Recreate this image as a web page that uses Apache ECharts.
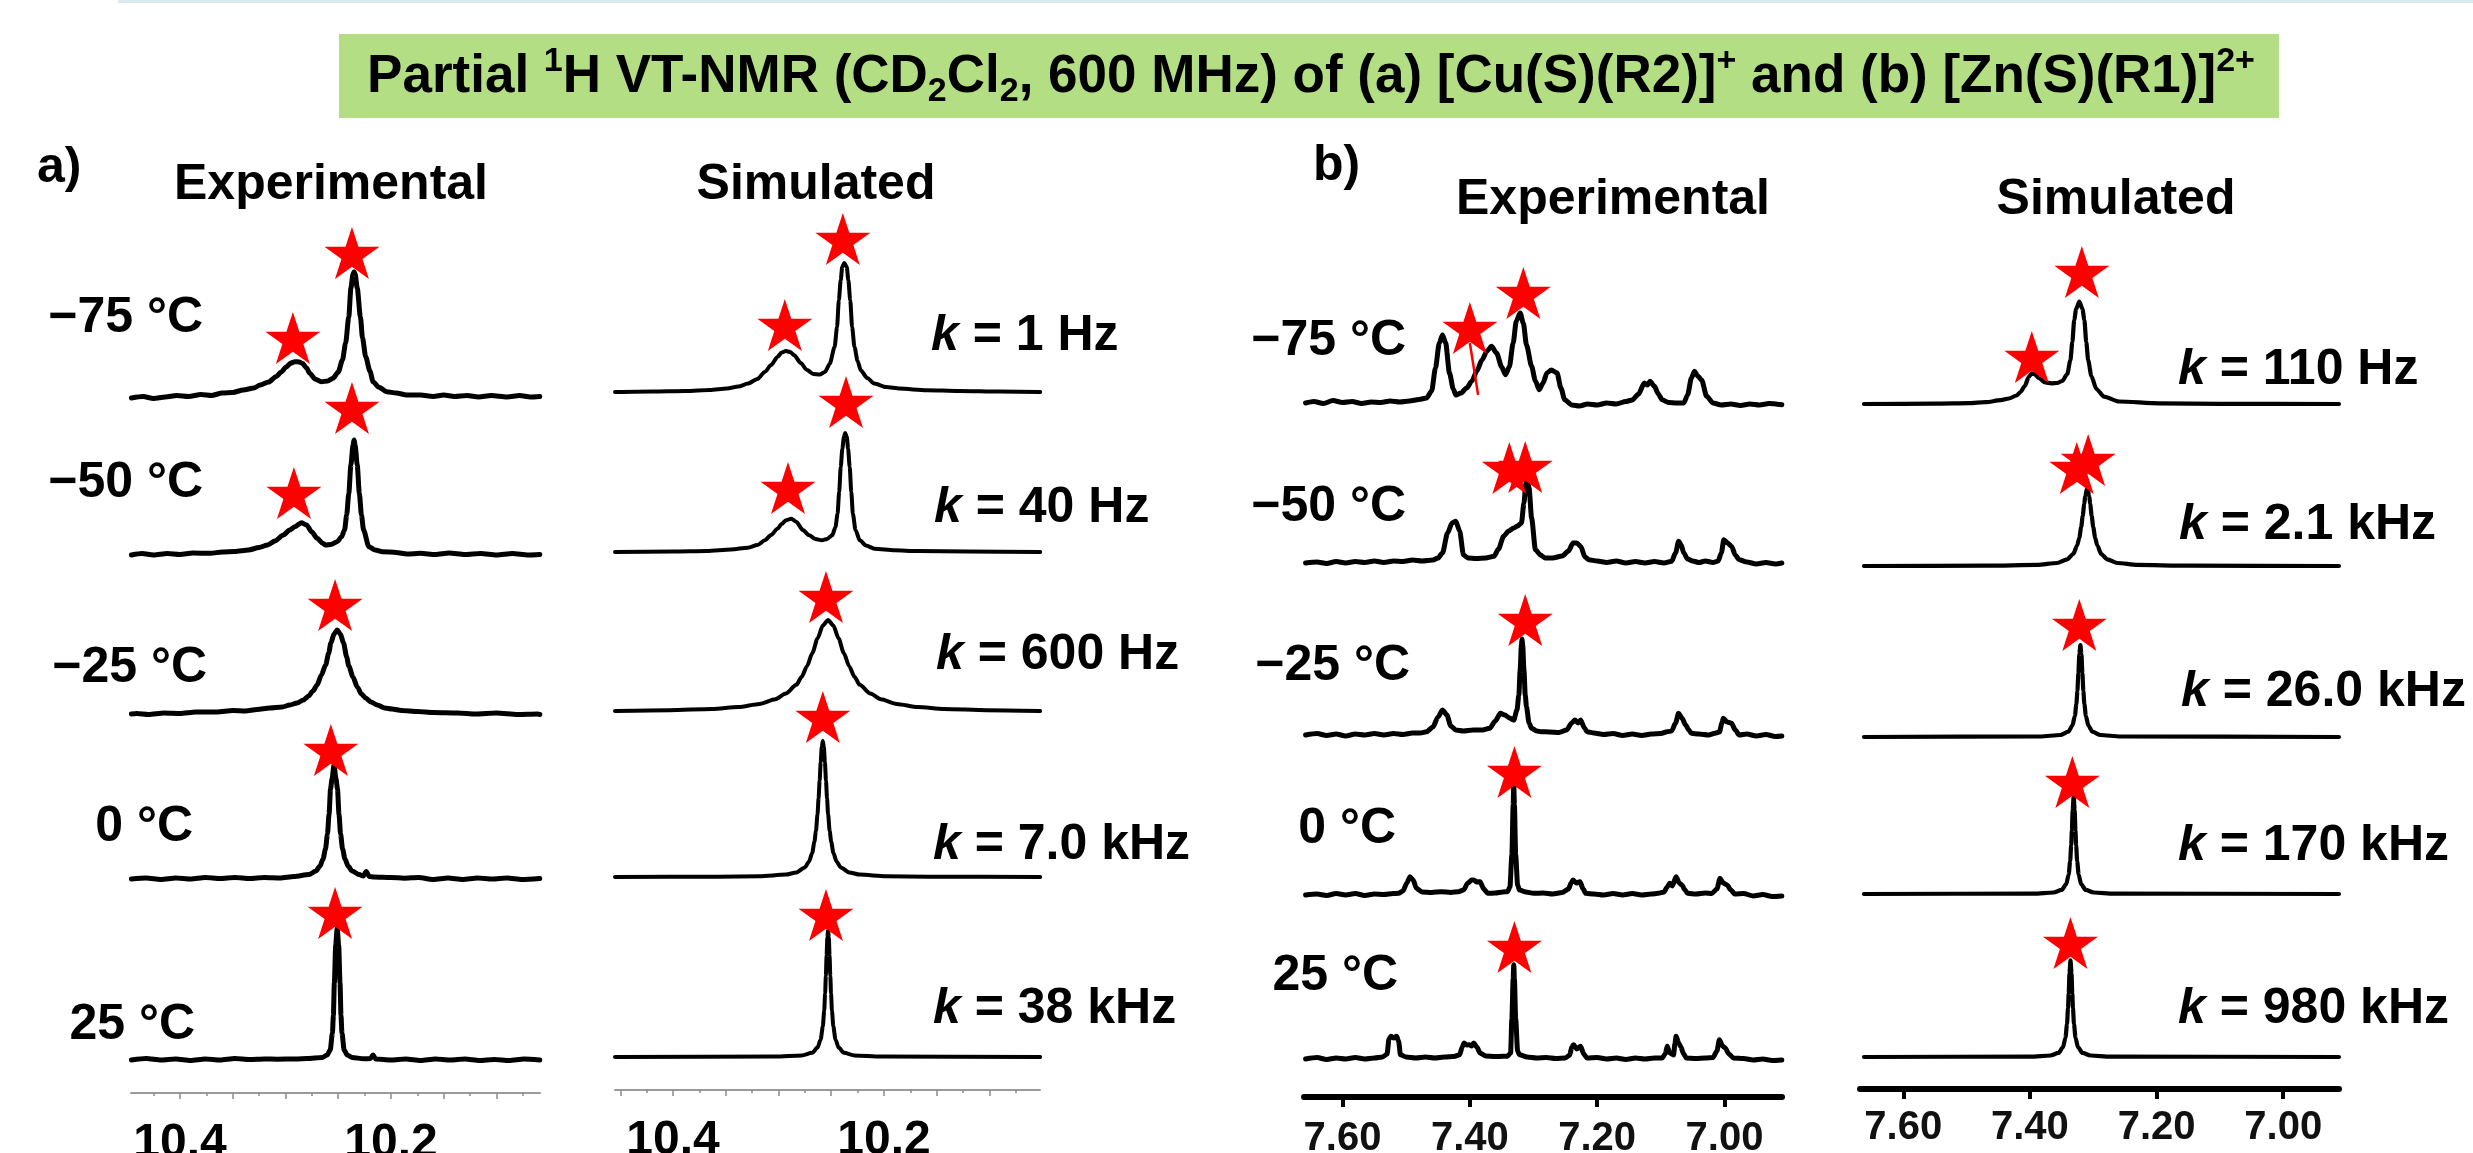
<!DOCTYPE html>
<html>
<head>
<meta charset="utf-8">
<script src="https://cdn.jsdelivr.net/npm/echarts@6/dist/echarts.min.js"></script>
<style>
html,body{margin:0;padding:0;background:#fff;}
#chart{width:2473px;height:1153px;}
</style>
</head>
<body>
<div id="chart"></div>
<script>
// ---- data (ppm, intensity above own baseline) ----
var aExpTemps = ['\u221275 \u00b0C', '\u221250 \u00b0C', '\u221225 \u00b0C', '0 \u00b0C', '25 \u00b0C'];
var bExpTemps = ['\u221275 \u00b0C', '\u221250 \u00b0C', '\u221225 \u00b0C', '0 \u00b0C', '25 \u00b0C'];
var aSimRates = ['1 Hz', '40 Hz', '600 Hz', '7.0 kHz', '38 kHz'];
var bSimRates = ['110 Hz', '2.1 kHz', '26.0 kHz', '170 kHz', '980 kHz'];

var aTickLabels = [10.4, 10.2];
var aExpMajorTicks = [10.10, 10.15, 10.20, 10.25, 10.30, 10.35, 10.40];
var aSimMajorTicks = [10.10, 10.15, 10.20, 10.25, 10.30, 10.35, 10.40, 10.45];
var aMinorTicks = [10.075, 10.125, 10.175, 10.225, 10.275, 10.325, 10.375, 10.425];
var bTickLabels = [7.6, 7.4, 7.2, 7.0];

// baselines of the stacked traces (same units as intensity)
var aExpOffsets = [695, 538, 378, 214, 33];
var aSimOffsets = [698, 538, 379, 213, 33];
var bExpOffsets = [694, 534, 362, 202, 38];
var bSimOffsets = [685, 523, 352, 195, 32];

var aExpM75 = [[10.446,0],[10.435,1.5],[10.425,-0.5],[10.414,1],[10.403,2.5],[10.392,1.5],[10.38,3.5],[10.37,2.5],[10.36,5],[10.35,5.5],[10.34,8],[10.33,10],[10.324,13],[10.316,16],[10.309,21.3],[10.304,26],[10.299,31.3],[10.295,35],[10.291,36.3],[10.287,36],[10.284,34.7],[10.28,30],[10.277,24.7],[10.272,19],[10.266,16.3],[10.26,17],[10.255,19.7],[10.25,26],[10.246,38],[10.243,55],[10.24,81.3],[10.238,110],[10.236,124],[10.235,126.3],[10.234,124],[10.232,110],[10.229,81.3],[10.227,60],[10.224,41.3],[10.22,27],[10.217,16.3],[10.212,11],[10.204,6.3],[10.195,5],[10.185,3],[10.172,3],[10.16,1.5],[10.15,3],[10.14,1.5],[10.128,2.5],[10.117,1],[10.105,2.5],[10.09,1],[10.078,2.5],[10.068,1],[10.059,1.5]];
var aExpM50 = [[10.446,0],[10.436,1.5],[10.425,0],[10.412,1.5],[10.4,0.5],[10.388,2],[10.371,1.7],[10.36,3],[10.348,3.5],[10.335,5],[10.325,7.5],[10.317,10],[10.31,14],[10.302,20],[10.296,25],[10.291,28.3],[10.285,32.3],[10.28,30],[10.275,23],[10.27,16.7],[10.265,12],[10.262,10],[10.257,10.5],[10.251,13.3],[10.247,18],[10.244,25],[10.242,40],[10.24,61.7],[10.238,90],[10.236,110],[10.235,115],[10.234,110],[10.232,90],[10.23,61.7],[10.228,40],[10.226,25],[10.221,8.3],[10.215,5],[10.208,3.3],[10.195,2.5],[10.185,1],[10.172,1.7],[10.158,0.5],[10.145,2],[10.13,0.5],[10.115,1.5],[10.1,0],[10.085,1.5],[10.07,0],[10.059,0.5]];
var aExpM25 = [[10.446,1],[10.441,1.5],[10.43,0.5],[10.415,2],[10.4,1.5],[10.385,3],[10.365,3],[10.35,4.5],[10.338,4],[10.327,5.5],[10.315,7],[10.303,8],[10.296,10],[10.289,12],[10.283,15],[10.278,19],[10.274,24],[10.27,30],[10.266,40],[10.262,50],[10.259,62],[10.257,72],[10.254,81],[10.251,85],[10.248,81],[10.245,72],[10.242,58],[10.24,49],[10.236,38],[10.232,28],[10.228,21],[10.224,17],[10.219,13],[10.213,10],[10.206,7],[10.199,6],[10.19,4.5],[10.175,3.5],[10.16,2.5],[10.137,2],[10.12,1],[10.1,2],[10.08,0.5],[10.061,1],[10.059,0.5]];
var aExp0 = [[10.446,0],[10.432,1],[10.418,-0.5],[10.404,1],[10.39,0],[10.376,1.5],[10.362,0.5],[10.348,1.5],[10.334,0.5],[10.32,1.5],[10.305,1],[10.2919,2.5],[10.2777,4.5],[10.2711,8],[10.2673,13],[10.2644,20],[10.2621,30],[10.2602,45],[10.2587,65],[10.2573,90],[10.2559,100],[10.254,114],[10.2521,100],[10.2507,90],[10.2493,65],[10.2478,45],[10.2459,30],[10.2436,20],[10.2407,13],[10.2369,8],[10.2303,4.5],[10.2262,3],[10.2235,7.5],[10.2205,2.5],[10.2161,2],[10.2,1.5],[10.1876,0.8],[10.174,1.5],[10.16,-0.5],[10.146,1],[10.132,-0.5],[10.118,1],[10.104,0],[10.09,1],[10.076,-0.5],[10.059,0.5]];
var aExp25 = [[10.446,0],[10.432,1.5],[10.418,0],[10.404,1],[10.39,-0.5],[10.376,1],[10.362,0],[10.348,1.5],[10.334,0.5],[10.32,1],[10.3079,0.8],[10.29,1],[10.2794,1.5],[10.2652,2.5],[10.2605,5],[10.2576,10],[10.2555,27],[10.2546,45],[10.2537,77],[10.2524,115],[10.251,132],[10.2496,115],[10.2483,77],[10.2474,45],[10.2465,27],[10.2444,10],[10.2415,5],[10.2368,2.5],[10.226,1.2],[10.2195,1.5],[10.217,5],[10.2145,1],[10.2,0],[10.186,1],[10.172,-0.5],[10.158,1],[10.144,0],[10.13,1],[10.116,-0.5],[10.102,0.5],[10.088,-0.5],[10.074,1],[10.059,0]];

var aSim1 = [[10.455,0],[10.42,0.5],[10.388,1],[10.365,2],[10.349,3.4],[10.338,5.5],[10.329,8.4],[10.32,13],[10.313,20],[10.307,27],[10.301,35],[10.297,39.5],[10.293,41],[10.289,40],[10.285,36.7],[10.279,29],[10.273,22],[10.267,18],[10.261,17.5],[10.256,20],[10.2515,28],[10.2468,45],[10.2445,65],[10.2428,91.7],[10.241,112],[10.2396,125],[10.2376,129],[10.2353,125],[10.2338,112],[10.232,91.7],[10.2302,65],[10.228,45],[10.225,31],[10.222,21.7],[10.216,14],[10.209,8.4],[10.198,5],[10.185,3.4],[10.16,1.8],[10.129,1],[10.09,0.4],[10.052,0]];
var aSim40 = [[10.455,0],[10.4,0.5],[10.368,1],[10.345,2.5],[10.329,4.3],[10.32,7],[10.313,11.7],[10.307,17],[10.301,23.3],[10.297,28],[10.293,31.7],[10.2879,33.3],[10.283,30],[10.277,22],[10.271,16.7],[10.265,13],[10.259,11.7],[10.254,13],[10.249,16.7],[10.246,25],[10.244,38.3],[10.2425,60],[10.241,85],[10.2395,103],[10.238,115],[10.2368,119],[10.2352,115],[10.234,103],[10.2325,85],[10.231,60],[10.2295,38.3],[10.227,22],[10.223,11.7],[10.217,6.5],[10.209,3.3],[10.19,1.7],[10.169,1],[10.12,0.4],[10.052,0]];
var aSim600 = [[10.455,0],[10.403,0.8],[10.363,2.1],[10.338,4],[10.318,7.1],[10.303,11.8],[10.293,17.4],[10.283,26.2],[10.278,34.3],[10.273,44.8],[10.268,57.7],[10.263,72.5],[10.258,85.5],[10.253,90.9],[10.248,85.5],[10.243,72.5],[10.238,57.7],[10.233,44.8],[10.228,34.3],[10.223,26.2],[10.213,17.4],[10.203,11.8],[10.188,7.1],[10.168,4],[10.143,2.1],[10.103,0.8],[10.052,0]];
var aSim7 = [[10.455,0],[10.358,0.3],[10.318,0.8],[10.293,2.4],[10.283,4.6],[10.275,9.5],[10.271,15.6],[10.268,24.2],[10.266,35],[10.2645,46],[10.263,63],[10.262,78.9],[10.261,96.6],[10.26,115],[10.259,130],[10.258,136],[10.257,130],[10.256,115],[10.255,96.6],[10.254,78.9],[10.253,63],[10.2515,46],[10.25,35],[10.248,24.2],[10.245,15.6],[10.241,9.5],[10.233,4.6],[10.223,2.4],[10.198,0.8],[10.158,0.3],[10.052,0]];
var aSim38 = [[10.455,0],[10.303,0.4],[10.278,1.6],[10.268,4.3],[10.263,9.4],[10.26,17.6],[10.258,30.4],[10.2567,46],[10.2558,63.7],[10.2551,81.5],[10.2544,101.8],[10.2537,119.8],[10.253,127.3],[10.2523,119.8],[10.2516,101.8],[10.2509,81.5],[10.2502,63.7],[10.2493,46],[10.248,30.4],[10.246,17.6],[10.243,9.4],[10.238,4.3],[10.228,1.6],[10.203,0.4],[10.052,0]];

var bExpM75 = [[7.658,0],[7.645,1.5],[7.63,-0.5],[7.615,2.5],[7.6,0.5],[7.585,1.5],[7.57,-0.5],[7.555,1],[7.54,0.5],[7.525,2],[7.51,1],[7.495,2],[7.48,3.5],[7.468,5],[7.46,12],[7.454,35],[7.448,60],[7.443,68],[7.438,60],[7.432,30],[7.426,14],[7.422,8],[7.414,10],[7.405,15],[7.397,21.7],[7.389,32],[7.381,43],[7.373,52],[7.366,56.7],[7.358,50],[7.35,36],[7.344,28.3],[7.338,36],[7.332,60],[7.327,82],[7.321,90],[7.316,80],[7.311,58],[7.303,36.7],[7.297,22],[7.291,13.3],[7.285,20],[7.279,30],[7.272,33],[7.263,30],[7.257,15],[7.251,3.3],[7.24,-2],[7.228,-3],[7.215,-1],[7.2,-2],[7.185,0],[7.17,-1],[7.155,1.5],[7.145,3],[7.135,9],[7.126,20],[7.121,18],[7.117,21.7],[7.11,16.7],[7.104,9],[7.098,3.3],[7.088,0.5],[7.075,0],[7.064,0],[7.058,8],[7.052,25],[7.047,31.7],[7.042,27],[7.036,23],[7.028,6.7],[7.018,0],[7.005,-2],[6.99,-1],[6.975,-2.5],[6.96,-1],[6.945,-2],[6.93,-0.5],[6.91,-1.7]];
var bExpM50 = [[7.658,0],[7.64,1],[7.625,-0.5],[7.61,1.5],[7.595,0],[7.58,1.5],[7.565,0.5],[7.55,2],[7.535,0.5],[7.52,2],[7.505,1.5],[7.49,3],[7.475,2],[7.458,3],[7.45,5],[7.443,10],[7.435,30],[7.428,40],[7.422,41.7],[7.416,32],[7.41,8],[7.403,5],[7.39,4.5],[7.375,5],[7.362,6.7],[7.355,14],[7.347,26.7],[7.339,32],[7.331,35],[7.325,37],[7.319,40],[7.315,60],[7.312,80],[7.31,86],[7.307,75],[7.303,45],[7.297,13.3],[7.289,8],[7.282,5],[7.27,5],[7.255,7],[7.245,12],[7.238,20],[7.232,20],[7.226,16.7],[7.219,6],[7.213,3.3],[7.2,2],[7.185,0.5],[7.17,2],[7.155,0],[7.14,1.5],[7.125,0],[7.11,1.5],[7.095,0],[7.083,1.7],[7.077,10],[7.072,21.7],[7.068,18],[7.064,10],[7.058,4],[7.05,2],[7.04,0.5],[7.03,2],[7.018,0.5],[7.01,2],[7.005,10],[7.001,23.3],[6.995,20],[6.989,16.7],[6.983,8],[6.977,3.3],[6.965,1],[6.95,-1],[6.935,0.5],[6.92,-1],[6.91,0]];
var bExpM25 = [[7.658,0],[7.64,1.5],[7.625,-0.5],[7.61,1],[7.595,-1],[7.58,1],[7.565,0],[7.55,1.5],[7.535,0],[7.52,1.5],[7.505,0.5],[7.49,2],[7.478,2],[7.468,3.3],[7.458,8],[7.45,18],[7.443,25],[7.436,20],[7.43,9],[7.422,5],[7.41,4],[7.395,5],[7.38,5],[7.369,6.7],[7.36,14],[7.352,21.7],[7.345,20],[7.338,17],[7.331,15],[7.326,25],[7.323,40],[7.321,65],[7.319,90],[7.318,96],[7.317,90],[7.315,65],[7.313,40],[7.311,28],[7.307,12],[7.303,6.7],[7.295,4],[7.288,3.3],[7.275,3],[7.26,2.5],[7.248,5],[7.24,12],[7.235,15],[7.23,12],[7.226,15],[7.22,7],[7.216,3.3],[7.205,2],[7.19,0.5],[7.175,1.5],[7.16,-0.5],[7.145,1],[7.13,-0.5],[7.115,1],[7.1,1.5],[7.09,3.3],[7.083,4],[7.077,12],[7.072,21.7],[7.067,17],[7.061,10],[7.056,5],[7.052,1.7],[7.04,1],[7.025,0],[7.015,1.7],[7.008,3],[7.004,12],[7.002,16.7],[6.996,13],[6.989,11.7],[6.983,5],[6.977,0],[6.965,1],[6.95,-1],[6.935,0.5],[6.92,-1.5],[6.91,-1]];
var bExp0 = [[7.658,0],[7.64,1],[7.625,-0.5],[7.61,1.5],[7.595,0],[7.58,1.5],[7.565,-0.5],[7.55,1],[7.535,0.5],[7.52,1.5],[7.512,1.7],[7.505,4],[7.499,12],[7.494,18.3],[7.489,15],[7.484,6.7],[7.475,3],[7.46,2.5],[7.445,3.3],[7.43,2.5],[7.418,3.3],[7.41,5],[7.403,12],[7.397,15],[7.394,15],[7.389,13],[7.384,13.3],[7.378,6],[7.372,1.7],[7.36,2],[7.348,3],[7.341,3.3],[7.337,8],[7.334,40],[7.332,90],[7.331,111.7],[7.33,90],[7.328,40],[7.325,10],[7.322,5],[7.312,3],[7.3,1.7],[7.285,2],[7.27,1],[7.255,2.5],[7.245,6],[7.241,12],[7.238,15],[7.233,12],[7.227,13.3],[7.222,6],[7.218,1.7],[7.205,1],[7.19,0],[7.175,1.5],[7.16,0],[7.145,1.5],[7.13,0],[7.115,1],[7.104,1.7],[7.095,3],[7.09,8],[7.086,11.7],[7.082,9],[7.076,18.3],[7.071,12],[7.067,10],[7.062,5],[7.058,1.7],[7.045,1],[7.03,2],[7.02,1.5],[7.012,6],[7.007,16.7],[7.002,12],[6.996,10],[6.99,5],[6.984,1],[6.97,1.5],[6.955,-1],[6.94,0.5],[6.925,-1.5],[6.91,-1]];
var bExp25 = [[7.658,0],[7.64,1.5],[7.625,-0.5],[7.61,1],[7.595,0],[7.58,1.5],[7.565,0],[7.55,1],[7.537,2],[7.53,5],[7.527,20],[7.524,22.7],[7.52,21],[7.515,22.7],[7.512,18],[7.509,4.3],[7.5,2],[7.485,1],[7.47,2],[7.455,1],[7.44,2],[7.425,2.5],[7.416,4.3],[7.412,12],[7.409,16],[7.405,14],[7.401,14.3],[7.397,13],[7.394,16],[7.389,12],[7.384,6],[7.375,3],[7.36,2.5],[7.348,2.7],[7.341,2.7],[7.336,6],[7.334,40],[7.332,80],[7.331,94.3],[7.33,80],[7.328,40],[7.325,8],[7.322,4.3],[7.31,2],[7.295,1],[7.28,1.5],[7.265,0.5],[7.25,1],[7.243,4],[7.24,12],[7.237,14.3],[7.232,10],[7.226,12.7],[7.221,5],[7.216,1],[7.2,1.5],[7.185,0],[7.17,1],[7.155,-0.5],[7.14,1],[7.125,0],[7.11,1],[7.098,1],[7.093,5],[7.09,12.7],[7.086,6],[7.08,4],[7.078,15],[7.076,22.7],[7.072,16],[7.069,12.7],[7.064,5],[7.06,1],[7.045,0.5],[7.03,1],[7.018,1.5],[7.012,8],[7.008,19.3],[7.003,13],[6.999,11],[6.993,5],[6.986,1],[6.97,0.5],[6.955,-1],[6.94,0],[6.925,-1.5],[6.91,-1]];
var bExpPointer = [[7.4, 754], [7.387, 702]];

var bSim110 = [[7.662,0],[7.55,0.3],[7.496,0.8],[7.47,1.8],[7.446,3.8],[7.433,5.5],[7.421,8.5],[7.415,12],[7.408,18],[7.402,27],[7.397,30.7],[7.392,29.5],[7.386,26],[7.376,21.5],[7.366,20.7],[7.357,21],[7.349,23],[7.341,30],[7.336,44],[7.333,62],[7.33,84],[7.327,95],[7.322,102.3],[7.317,95],[7.314,84],[7.311,62],[7.308,44],[7.303,28],[7.295,15],[7.283,7.3],[7.259,2.5],[7.196,0.7],[7.1,0.2],[6.912,0]];
var bSim21 = [[7.662,0],[7.4675,0.3],[7.3885,1.1],[7.3569,3],[7.3411,6.6],[7.3316,12],[7.3253,20.6],[7.3221,28],[7.319,39],[7.3166,50],[7.3142,62],[7.3127,70],[7.3095,78],[7.3063,70],[7.3048,62],[7.3024,50],[7.3,39],[7.2969,28],[7.2937,20.6],[7.2874,12],[7.2779,6.6],[7.2621,3],[7.2305,1.1],[7.1515,0.3],[6.912,0]];
var bSim26 = [[7.662,0],[7.3835,0.5],[7.3519,2],[7.3392,5.4],[7.3329,11.5],[7.329,21],[7.3266,33],[7.325,46],[7.3235,64],[7.3219,83],[7.3203,92],[7.3187,83],[7.3171,64],[7.3156,46],[7.314,33],[7.3116,21],[7.3077,11.5],[7.3014,5.4],[7.2887,2],[7.2571,0.5],[6.912,0]];
var bSim170 = [[7.662,0],[7.3941,0.4],[7.3625,1.5],[7.3499,4.1],[7.3427,9.8],[7.3388,19.5],[7.3364,33],[7.3348,49],[7.3337,64],[7.3325,84],[7.3309,97.7],[7.3293,84],[7.3281,64],[7.327,49],[7.3254,33],[7.323,19.5],[7.3191,9.8],[7.3119,4.1],[7.2993,1.5],[7.2677,0.4],[6.912,0]];
var bSim980 = [[7.662,0],[7.3991,0.4],[7.3675,1.5],[7.3549,4.1],[7.3477,9.8],[7.3438,19.5],[7.3414,33],[7.3398,49],[7.3387,64],[7.3375,84],[7.3359,96.7],[7.3343,84],[7.3331,64],[7.332,49],[7.3304,33],[7.328,19.5],[7.3241,9.8],[7.3169,4.1],[7.3043,1.5],[7.2727,0.4],[6.912,0]];

// star markers (ppm, level)
var aExpStars = [[10.237,840],[10.293,755],[10.237,685],[10.292,600],[10.253,488],[10.257,343],[10.253,180]];
var aSimStars = [[10.239,851],[10.294,765],[10.236,688],[10.291,602],[10.255,493],[10.258,373],[10.255,175]];
var bExpStars = [[7.4,769],[7.316,804],[7.338,629],[7.313,630],[7.313,477],[7.33,325],[7.33,150]];
var bSimStars = [[7.318,817],[7.397,732],[7.326,621],[7.308,629],[7.322,464],[7.333,307],[7.336,146]];

// ---- layout ----
var FONT = "'Liberation Sans', Arial, sans-serif";
var STAR = 'path://M50,0L61.2,34.5L97.6,34.5L68.2,55.9L79.4,90.5L50,69.1L20.6,90.5L31.8,55.9L2.4,34.5L38.8,34.5Z';
var GRID_TOP = 150;

var panels = [
  {left: 131, width: 409, axisY: 1093, min: 10.0588, max: 10.4464, kind: 'a', major: aExpMajorTicks,
   spectra: [aExpM75, aExpM50, aExpM25, aExp0, aExp25], offsets: aExpOffsets, stars: aExpStars, lw: 5},
  {left: 615, width: 425, axisY: 1090, min: 10.0521, max: 10.455, kind: 'a', major: aSimMajorTicks,
   spectra: [aSim1, aSim40, aSim600, aSim7, aSim38], offsets: aSimOffsets, stars: aSimStars, lw: 4},
  {left: 1304, width: 478, axisY: 1097, min: 6.9097, max: 7.6605, kind: 'b', labelMargin: 22,
   spectra: [bExpM75, bExpM50, bExpM25, bExp0, bExp25], offsets: bExpOffsets, stars: bExpStars, lw: 5},
  {left: 1860, width: 479, axisY: 1089, min: 6.9119, max: 7.6683, kind: 'b', labelMargin: 19,
   spectra: [bSim110, bSim21, bSim26, bSim170, bSim980], offsets: bSimOffsets, stars: bSimStars, lw: 4.2}
];

var grids = [], xAxes = [], yAxes = [], series = [];

panels.forEach(function (p, i) {
  grids.push({left: p.left, top: GRID_TOP, width: p.width, height: p.axisY - GRID_TOP,
    containLabel: false, outerBoundsMode: 'none'});
  yAxes.push({gridIndex: i, type: 'value', min: 0, max: p.axisY - GRID_TOP, show: false});
  if (p.kind === 'a') {
    xAxes.push({gridIndex: i, type: 'value', position: 'bottom', inverse: true, min: p.min, max: p.max,
      axisLine: {show: true, onZero: false, lineStyle: {color: '#9a9a9a', width: 2}},
      axisTick: {show: true, length: 6, customValues: p.major, lineStyle: {color: '#8a8a8a', width: 1.5}},
      axisLabel: {show: true, customValues: aTickLabels, formatter: function (v) { return v.toFixed(1); },
        fontSize: 48, fontWeight: 'bold', fontFamily: FONT, color: '#000', margin: 27},
      splitLine: {show: false}});
    xAxes.push({gridIndex: i, type: 'value', position: 'bottom', inverse: true, min: p.min, max: p.max,
      axisLine: {show: false, onZero: false},
      axisTick: {show: true, length: 3, customValues: aMinorTicks, lineStyle: {color: '#8a8a8a', width: 1.5}},
      axisLabel: {show: false}, splitLine: {show: false}});
  } else {
    xAxes.push({gridIndex: i, type: 'value', position: 'bottom', inverse: true, min: p.min, max: p.max,
      axisLine: {show: true, onZero: false, lineStyle: {color: '#000', width: 6}},
      axisTick: {show: true, length: 10, customValues: bTickLabels, lineStyle: {color: '#000', width: 4}},
      axisLabel: {show: true, customValues: bTickLabels, formatter: function (v) { return v.toFixed(2); },
        fontSize: 40, fontWeight: 'bold', fontFamily: FONT, color: '#111', margin: p.labelMargin},
      splitLine: {show: false}});
    xAxes.push({gridIndex: i, type: 'value', position: 'bottom', inverse: true, min: p.min, max: p.max, show: false});
  }
  p.spectra.forEach(function (spec, j) {
    series.push({
      type: 'line', xAxisIndex: 2 * i, yAxisIndex: i, silent: true, showSymbol: false,
      smooth: 0.25, smoothMonotone: 'x', z: 2,
      lineStyle: {color: '#000', width: p.lw, cap: 'round', join: 'round'},
      data: spec.map(function (pt) { return [pt[0], pt[1] + p.offsets[j]]; })
    });
  });
  series.push({
    type: 'scatter', xAxisIndex: 2 * i, yAxisIndex: i, silent: true, z: 5,
    symbol: STAR, symbolSize: [55, 52], itemStyle: {color: '#ff0000', opacity: 1},
    data: p.stars
  });
});

// pointer line in (b) experimental, -75 °C
series.push({type: 'line', xAxisIndex: 4, yAxisIndex: 2, silent: true, showSymbol: false, z: 6,
  lineStyle: {color: '#ff0000', width: 2.5}, data: bExpPointer});

function txt(x, y, text, align, size) {
  return {type: 'text', x: x, y: y, silent: true, z: 10,
    style: {text: text, fill: '#000', font: 'bold ' + (size || 50) + 'px ' + FONT,
      align: align, verticalAlign: 'middle'}};
}
function kTxt(x, y, rate) {
  return {type: 'text', x: x, y: y, silent: true, z: 10,
    style: {text: '{i|k}{n| = ' + rate + '}', align: 'left', verticalAlign: 'middle',
      rich: {i: {fontStyle: 'italic', fontWeight: 'bold', fontSize: 50, fontFamily: FONT, fill: '#000'},
             n: {fontWeight: 'bold', fontSize: 50, fontFamily: FONT, fill: '#000'}}}};
}

var aExpTempPos = [[203,318],[203,483],[207,668],[193,827],[195,1025]];
var bExpTempPos = [[1406,341],[1406,507],[1410,666],[1396,829],[1398,976]];
var aSimRatePos = [[931,336],[934,508],[936,655],[933,845],[933,1009]];
var bSimRatePos = [[2178,370],[2179,525],[2181,692],[2178,846],[2178,1009]];

var graphics = [
  {type: 'rect', silent: true, shape: {x: 118, y: 0, width: 2355, height: 3}, style: {fill: '#dbe8ee'}},
  {type: 'rect', silent: true, shape: {x: 339, y: 34, width: 1940, height: 84}, style: {fill: '#b3de84'}},
  {type: 'text', x: 1311, y: 77, silent: true, z: 10,
    style: {
      text: '{b|Partial }{sup|1}{b|H VT-NMR (CD}{sub|2}{b|Cl}{sub|2}{b|, 600 MHz) of (a) [Cu(S)(R2)]}{sup|+}{b| and (b) [Zn(S)(R1)]}{sup|2+}',
      align: 'center', verticalAlign: 'middle',
      rich: {
        b: {fontSize: 53, fontWeight: 'bold', fontFamily: FONT, fill: '#000', lineHeight: 64},
        sup: {fontSize: 34, fontWeight: 'bold', fontFamily: FONT, fill: '#000', lineHeight: 44, verticalAlign: 'top'},
        sub: {fontSize: 34, fontWeight: 'bold', fontFamily: FONT, fill: '#000', lineHeight: 27, verticalAlign: 'bottom'}
      }
    }},
  txt(37, 168, 'a)', 'left'),
  txt(331, 185, 'Experimental', 'center'),
  txt(816, 185, 'Simulated', 'center'),
  txt(1313, 166, 'b)', 'left'),
  txt(1613, 200, 'Experimental', 'center'),
  txt(2116, 200, 'Simulated', 'center')
];
aExpTemps.forEach(function (t, j) { graphics.push(txt(aExpTempPos[j][0], aExpTempPos[j][1], t, 'right')); });
bExpTemps.forEach(function (t, j) { graphics.push(txt(bExpTempPos[j][0], bExpTempPos[j][1], t, 'right')); });
aSimRates.forEach(function (r, j) { graphics.push(kTxt(aSimRatePos[j][0], aSimRatePos[j][1], r)); });
bSimRates.forEach(function (r, j) { graphics.push(kTxt(bSimRatePos[j][0], bSimRatePos[j][1], r)); });

var chart = echarts.init(document.getElementById('chart'), null, {renderer: 'canvas'});
chart.setOption({
  backgroundColor: '#fff',
  animation: false,
  grid: grids,
  xAxis: xAxes,
  yAxis: yAxes,
  series: series,
  graphic: graphics
});
</script>
</body>
</html>
